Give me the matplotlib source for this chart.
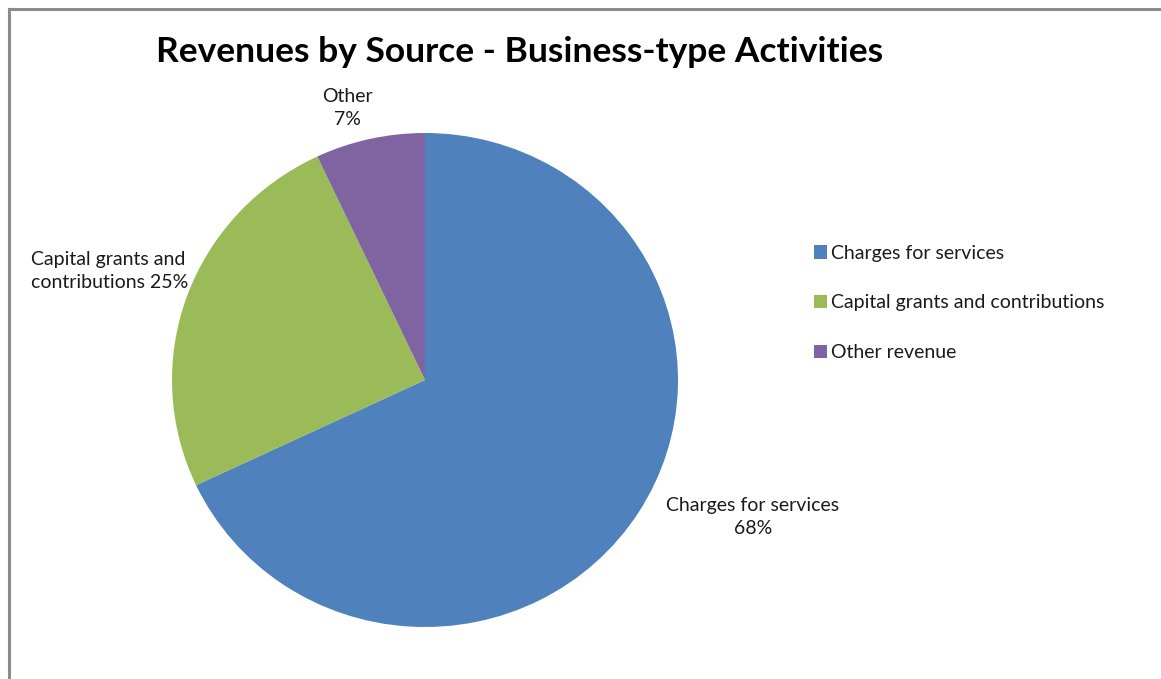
import matplotlib
matplotlib.use("Agg")
import matplotlib.pyplot as plt
from matplotlib.lines import Line2D

categories = ["Charges for services", "Capital grants and contributions", "Other revenue"]
values = [68, 25, 7]
slice_labels = ["Charges for services\n68%", "Capital grants and\ncontributions 25%", "Other\n7%"]
colors = ["#4F81BD", "#9BBB59", "#8064A2"]

plt.rcParams['font.family'] = ['Lato', 'DejaVu Sans']

W, H = 1161, 679
fig = plt.figure(figsize=(W / 100, H / 100), dpi=100)

# border (left and top visible)
bx, by = 8.5 / W, 1 - 8.5 / H
fig.add_artist(Line2D([bx, 1.0], [by, by], color="#8C8C8C", lw=2.2, transform=fig.transFigure))
fig.add_artist(Line2D([bx, bx], [0.0, by], color="#8C8C8C", lw=2.2, transform=fig.transFigure))

cx, cy, rx, ry = 425, 380, 253, 247
ax = fig.add_axes([(cx - rx) / W, (H - cy - ry) / H, 2 * rx / W, 2 * ry / H])
wedges, _ = ax.pie(values, colors=colors, startangle=90, counterclock=False,
                   wedgeprops=dict(linewidth=0))
ax.set_aspect('auto')
ax.set_xlim(-1, 1)
ax.set_ylim(-1, 1)
ax.axis('off')

FS = 14
label_pos = [(1.296, -0.555, 'center'), (-1.556, 0.441, 'left'), (-0.308, 1.10, 'center')]
for lab, (x, y, ha) in zip(slice_labels, label_pos):
    ax.text(x, y, lab, ha=ha, va='center', fontsize=FS,
            color="#1a1a1a", linespacing=1.45, clip_on=False, multialignment=ha)

fig.text(520 / W, 1 - 52 / H, "Revenues by Source - Business-type Activities",
         ha='center', va='center', fontsize=25.5, fontweight='bold', color='black')

leg = fig.legend(wedges, categories, loc='upper left',
                 bbox_to_anchor=(806 / W, 1 - 237 / H), frameon=False,
                 fontsize=FS, handlelength=0.7, handleheight=0.7,
                 handletextpad=0.2, labelspacing=1.68, borderaxespad=0)
for t in leg.get_texts():
    t.set_color("#1a1a1a")

fig.savefig("out.png", dpi=100, facecolor="white")
